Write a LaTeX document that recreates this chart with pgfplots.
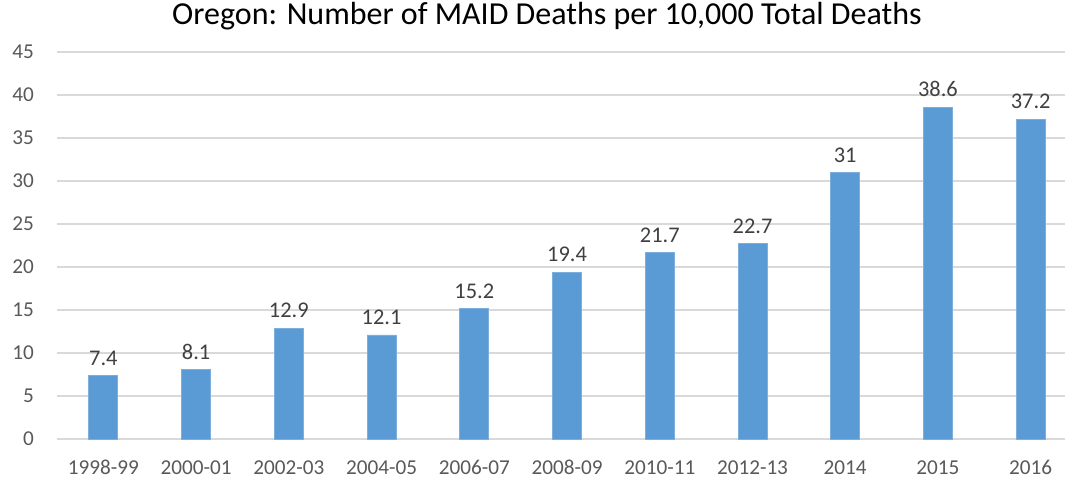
\documentclass[border=0pt]{standalone}
\usepackage{pgfplots}
\pgfplotsset{compat=1.18}
\usepackage{fontspec}
\setmainfont{Carlito}
\definecolor{barblue}{HTML}{5B9BD5}
\definecolor{gridgray}{HTML}{D9D9D9}
\definecolor{ticktext}{HTML}{595959}
\definecolor{labeltext}{HTML}{404040}
\begin{document}
\begin{tikzpicture}
\begin{axis}[
  scale only axis,
  width=504pt, height=193.5pt,
  ymin=0, ymax=45,
  xmin=-0.5, xmax=10.37,
  ytick={0,5,...,45},
  xtick=data,
  xticklabels={1998-99,2000-01,2002-03,2004-05,2006-07,2008-09,2010-11,2012-13,2014,2015,2016},
  axis line style={draw=none},
  ymajorgrids,
  grid style={gridgray, line width=0.6pt},
  major tick length=0pt,
  tick style={draw=none},
  /pgf/number format/assume math mode=true,
  ticklabel style={font=\fontsize{10.6}{12}\selectfont, text=ticktext},
  yticklabel style={anchor=east, xshift=-8pt},
  xticklabel style={anchor=base, yshift=-17.8pt, inner sep=0.3pt},
  ybar, bar width=14.5pt,
  bar shift=0pt,
  nodes near coords,
  nodes near coords style={font=\fontsize{11.2}{13}\selectfont, text=labeltext, yshift=1.5pt},
  point meta=explicit symbolic,
  title={Oregon: Number of MAID Deaths per 10,000 Total Deaths},
  title style={at={(rel axis cs:0.486,1)}, anchor=base, yshift=8pt, font=\fontsize{16}{18}\selectfont, text=black},
  clip=false,
]
\addplot[fill=barblue, draw=barblue!80!white, line width=0.4pt] coordinates {
  (0,7.4) [7.4]
  (1,8.1) [8.1]
  (2,12.9) [12.9]
  (3,12.1) [12.1]
  (4,15.2) [15.2]
  (5,19.4) [19.4]
  (6,21.7) [21.7]
  (7,22.7) [22.7]
  (8,31) [31]
  (9,38.6) [38.6]
  (10,37.2) [37.2]
};
\end{axis}
\pgfresetboundingbox
\path[use as bounding box] (-28.5pt,-19pt) rectangle (504pt,219.5pt);
\end{tikzpicture}
\end{document}
